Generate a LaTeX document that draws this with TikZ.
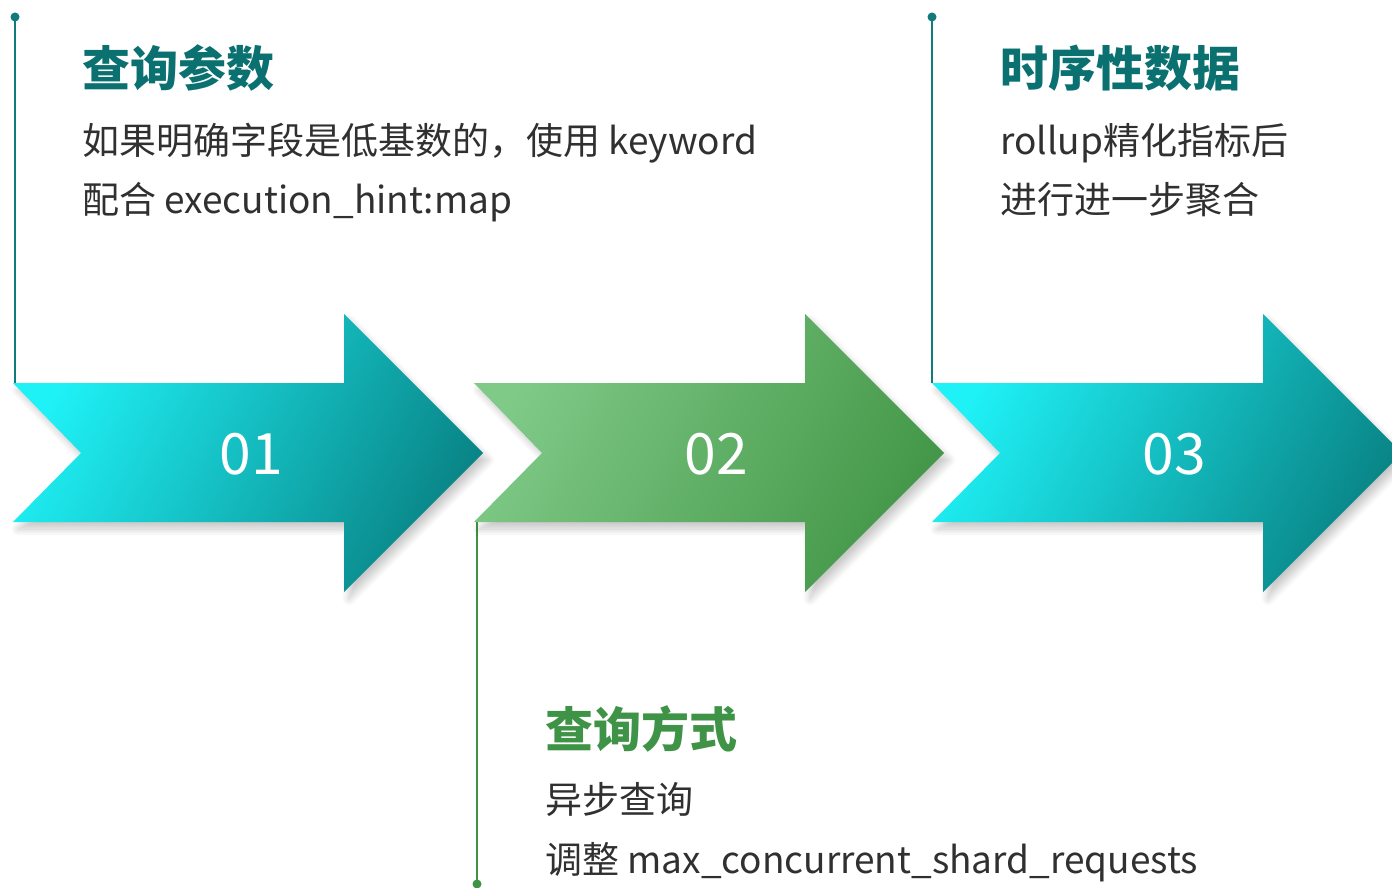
\documentclass[tikz,border=0pt]{standalone}
\usepackage{fontspec}
\setmainfont{Noto Sans CJK SC}
\usetikzlibrary{shadows.blur}
\definecolor{tealtitle}{HTML}{0B7070}
\definecolor{tealline}{HTML}{127A7A}
\definecolor{greentitle}{HTML}{3E9346}
\definecolor{greenline}{HTML}{3E9346}
\definecolor{bodytext}{HTML}{303030}
\definecolor{tealA}{HTML}{1FF2F7}
\definecolor{tealB}{HTML}{098587}
\definecolor{greenA}{HTML}{80CA88}
\definecolor{greenB}{HTML}{449748}
\tikzset{
  arrowshape/.style={blur shadow={shadow xshift=5pt, shadow yshift=-7pt, shadow blur radius=7pt, shadow opacity=22, shadow blur steps=12}},
  tealarrow/.style={arrowshape, left color=tealA, right color=tealB, shading angle=62},
  greenarrow/.style={arrowshape, left color=greenA, right color=greenB, shading angle=62},
  title/.style={anchor=base west, inner sep=0pt, font=\fontsize{48}{50}\selectfont\bfseries},
  body/.style={anchor=base west, inner sep=0pt, font=\fontsize{37}{40}\selectfont, text=bodytext},
  num/.style={anchor=base, inner sep=0pt, font=\fontsize{57}{60}\selectfont, text=white},
  leader/.style={line width=2pt},
  dot/.style={circle, inner sep=0pt, minimum size=9pt}
}
\begin{document}
\begin{tikzpicture}[x=1pt,y=-1pt]
\useasboundingbox (0,0) rectangle (1392,888);
% coordinates
\coordinate (c1) at (15,383);
\coordinate (c3) at (932,383);
\coordinate (c2) at (477,522);
% leader lines and dots
\node[dot, fill=tealline] (d1) at (15,17) {};
\node[dot, fill=tealline] (d3) at (932,17) {};
\node[dot, fill=greenline] (d2) at (477,884) {};
\draw[leader, tealline] (d1.center) -- (c1);
\draw[leader, tealline] (d3.center) -- (c3);
\draw[leader, greenline] (c2) -- (d2.center);
% arrows
\foreach \L/\sty in {13/tealarrow, 474/greenarrow, 932/tealarrow}{
  \shade[\sty] (\L,383) -- (\L+331,383) -- (\L+331,314) -- (\L+470,453)
     -- (\L+331,592) -- (\L+331,522) -- (\L,522) -- (\L+68,453) -- cycle;
}
\node[num] (n1) at (251,474) {01};
\node[num] (n2) at (716,474) {02};
\node[num] (n3) at (1174,474) {03};
% texts
\node[title, text=tealtitle] (t1) at (82,87) {查询参数};
\node[body] (b1a) at (82,154) {如果明确字段是低基数的，使用 keyword};
\node[body] (b1b) at (82,213) {配合 execution\_hint:map};
\node[title, text=tealtitle] (t3) at (1000,87) {时序性数据};
\node[body] (b3a) at (1000,154) {rollup精化指标后};
\node[body] (b3b) at (1000,213) {进行进一步聚合};
\node[title, text=greentitle] (t2) at (545,747) {查询方式};
\node[body] (b2a) at (545,813) {异步查询};
\node[body] (b2b) at (545,873) {调整 max\_concurrent\_shard\_requests};
\end{tikzpicture}
\end{document}
